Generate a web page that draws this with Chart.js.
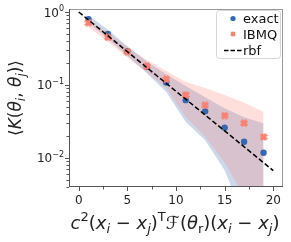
<!DOCTYPE html>
<html>
<head>
<meta charset="utf-8">
<script src="https://cdn.jsdelivr.net/npm/chart.js@4"></script>
<style>
  html, body { margin: 0; padding: 0; background: #fff; }
  canvas { display: block; }
</style>
</head>
<body>
<canvas id="kernelChart" width="291" height="242"></canvas>
<script>
// data
const xVals = [1, 3, 5, 7, 9, 11, 13, 15, 17, 19];
const exactMean = [0.80, 0.50, 0.29, 0.178, 0.108, 0.062, 0.0435, 0.026, 0.0167, 0.0118];
const exactUpper = [0.90, 0.57, 0.34, 0.21, 0.14, 0.097, 0.068, 0.048, 0.036, 0.030];
const exactLower = [0.70, 0.43, 0.25, 0.145, 0.08, 0.031, 0.0175, 0.0068, 0.0015, 0.0005];
const ibmqMean = [0.71, 0.45, 0.286, 0.18, 0.12, 0.073, 0.0527, 0.038, 0.030, 0.0194];
const ibmqUpper = [0.80, 0.52, 0.33, 0.22, 0.155, 0.11, 0.091, 0.073, 0.057, 0.043];
const ibmqLower = [0.62, 0.39, 0.24, 0.15, 0.09, 0.036, 0.0195, 0.0086, 0.003, 0.0004];
const rbfX = [0, 4, 8, 12, 16, 20];
const rbfY = [1.0, 0.368, 0.135, 0.0498, 0.0183, 0.0067];
const xTicks = [0, 5, 10, 15, 20];
const yTicks = [1, 0.1, 0.01];
const yTickExp = ['0', '\u22121', '\u22122'];

const BLUE = '#3568b0';
const SALMON = '#fa8072';
const FONT = '"DejaVu Sans", sans-serif';

const pts = (xs, ys) => xs.map((x, i) => ({ x: x, y: ys[i] }));

// filled "X" marker like matplotlib's
const makeX = (size, color) => {
    const c = document.createElement('canvas');
    c.width = size; c.height = size;
    const g = c.getContext('2d');
    g.strokeStyle = color;
    g.lineWidth = size * 0.42;
    g.beginPath();
    g.moveTo(1.2, 1.2); g.lineTo(size - 1.2, size - 1.2);
    g.moveTo(size - 1.2, 1.2); g.lineTo(1.2, size - 1.2);
    g.stroke();
    return c;
};
const xMarker = makeX(8, SALMON);
const xMarkerSmall = makeX(6, SALMON);

// draw text made of upright / italic / sub / sup pieces
const drawRich = (ctx, segs, x, y, S, align) => {
    const fontOf = s => `${s.it ? 'italic ' : ''}${(s.sub || s.sup) ? Math.round(S * 0.7) : S}px ${FONT}`;
    let total = 0;
    segs.forEach(s => { ctx.font = fontOf(s); total += ctx.measureText(s.t).width; });
    let cx = align === 'center' ? x - total / 2 : align === 'right' ? x - total : x;
    ctx.textAlign = 'left';
    ctx.textBaseline = 'alphabetic';
    segs.forEach(s => {
        ctx.font = fontOf(s);
        const dy = s.sub ? S * 0.22 : s.sup ? -S * 0.42 : 0;
        ctx.fillText(s.t, cx, y + dy);
        cx += ctx.measureText(s.t).width;
    });
};

const xTitle = [
    { t: 'c', it: true }, { t: '2', sup: true }, { t: '(' }, { t: 'x', it: true }, { t: 'i', it: true, sub: true },
    { t: ' \u2212 ' }, { t: 'x', it: true }, { t: 'j', it: true, sub: true }, { t: ')' }, { t: 'T', sup: true },
    { t: '\u2131' }, { t: '(' }, { t: '\u03b8', it: true }, { t: 'r', sub: true }, { t: ')' },
    { t: '(' }, { t: 'x', it: true }, { t: 'i', it: true, sub: true }, { t: ' \u2212 ' }, { t: 'x', it: true },
    { t: 'j', it: true, sub: true }, { t: ')' }
];
const yTitle = [
    { t: '\u27e8' }, { t: 'K', it: true }, { t: '(' }, { t: '\u03b8', it: true }, { t: 'i', it: true, sub: true },
    { t: ', ' }, { t: '\u03b8', it: true }, { t: 'j', it: true, sub: true }, { t: ')' }, { t: '\u27e9' }
];

const axesPlugin = {
    id: 'mplAxes',
    afterDraw(chart) {
        const ctx = chart.ctx;
        const a = chart.chartArea;
        const xs = chart.scales.x, ys = chart.scales.y;
        ctx.save();

        // spines
        ctx.lineWidth = 1;
        ctx.strokeStyle = '#9a9a9a';
        ctx.beginPath();
        ctx.moveTo(a.left, a.top + 0.5); ctx.lineTo(a.right, a.top + 0.5);
        ctx.moveTo(a.right - 0.5, a.top); ctx.lineTo(a.right - 0.5, a.bottom);
        ctx.stroke();
        ctx.strokeStyle = '#555';
        ctx.beginPath();
        ctx.moveTo(a.left + 0.5, a.top); ctx.lineTo(a.left + 0.5, a.bottom);
        ctx.moveTo(a.left, a.bottom - 0.5); ctx.lineTo(a.right, a.bottom - 0.5);
        ctx.stroke();

        // x ticks
        ctx.fillStyle = '#222';
        for (let v = 0; v <= 20; v += 2.5) {
            const px = Math.round(xs.getPixelForValue(v)) + 0.5;
            const major = v % 5 === 0;
            ctx.beginPath();
            ctx.moveTo(px, a.bottom); ctx.lineTo(px, a.bottom + (major ? 4 : 2.5));
            ctx.stroke();
        }
        ctx.font = `12px ${FONT}`;
        ctx.textAlign = 'center';
        ctx.textBaseline = 'alphabetic';
        xTicks.forEach(v => ctx.fillText(String(v), xs.getPixelForValue(v), a.bottom + 17));

        // y ticks (log, with minors)
        for (let e = -3; e <= 0; e++) {
            for (let m = 1; m <= 9; m++) {
                const v = m * Math.pow(10, e);
                if (v < ys.min || v > ys.max) continue;
                const py = Math.round(ys.getPixelForValue(v)) + 0.5;
                ctx.beginPath();
                ctx.moveTo(a.left, py); ctx.lineTo(a.left - (m === 1 ? 4 : 2.5), py);
                ctx.stroke();
            }
        }
        yTicks.forEach((v, i) => {
            const py = ys.getPixelForValue(v);
            drawRich(ctx, [{ t: '10' }, { t: yTickExp[i], sup: true }], a.left - 5, py + 4.5, 12, 'right');
        });

        // axis titles
        drawRich(ctx, xTitle, 175, 229, 18, 'center');
        ctx.save();
        ctx.translate(21, (a.top + a.bottom) / 2);
        ctx.rotate(-Math.PI / 2);
        drawRich(ctx, yTitle, 0, 0, 17, 'center');
        ctx.restore();

        // legend
        const lx = 216.5, ly = 10.5, lw = 64, lh = 48;
        ctx.beginPath();
        ctx.roundRect(lx, ly, lw, lh, 3);
        ctx.fillStyle = 'rgba(255,255,255,0.8)';
        ctx.fill();
        ctx.strokeStyle = '#d6d6d6';
        ctx.stroke();

        ctx.fillStyle = BLUE;
        ctx.beginPath();
        ctx.arc(233, 18.5, 2.6, 0, Math.PI * 2);
        ctx.fill();
        ctx.drawImage(xMarkerSmall, 230, 31);
        ctx.strokeStyle = '#000';
        ctx.lineWidth = 1.5;
        ctx.setLineDash([4.5, 2]);
        ctx.beginPath();
        ctx.moveTo(224, 50.5); ctx.lineTo(242, 50.5);
        ctx.stroke();
        ctx.setLineDash([]);

        ctx.fillStyle = '#111';
        ctx.font = `13px ${FONT}`;
        ctx.textAlign = 'left';
        ctx.fillText('exact', 243, 22.5);
        ctx.fillText('IBMQ', 243, 38.5);
        ctx.fillText('rbf', 243, 55);
        ctx.restore();
    }
};

new Chart(document.getElementById('kernelChart'), {
    type: 'line',
    data: {
        datasets: [
            {
                label: 'rbf', data: pts(rbfX, rbfY), borderColor: '#000', borderWidth: 1.5,
                borderDash: [5, 2.5], pointRadius: 0, fill: false
            },
            {
                label: 'IBMQ', data: pts(xVals, ibmqMean), showLine: false,
                pointStyle: xMarker, pointRadius: 4, fill: false
            },
            {
                label: 'exact', data: pts(xVals, exactMean), showLine: false,
                pointStyle: 'circle', pointRadius: 3.2, pointBackgroundColor: BLUE,
                pointBorderWidth: 0, fill: false
            },
            {
                label: 'IBMQ upper', data: pts(xVals, ibmqUpper), borderWidth: 0, pointRadius: 0,
                fill: '+1', backgroundColor: 'rgba(250,128,114,0.25)'
            },
            { label: 'IBMQ lower', data: pts(xVals, ibmqLower), borderWidth: 0, pointRadius: 0, fill: false },
            {
                label: 'exact upper', data: pts(xVals, exactUpper), borderWidth: 0, pointRadius: 0,
                fill: '+1', backgroundColor: 'rgba(53,104,176,0.25)'
            },
            { label: 'exact lower', data: pts(xVals, exactLower), borderWidth: 0, pointRadius: 0, fill: false }
        ]
    },
    options: {
        responsive: false,
        animation: false,
        layout: { padding: { left: 69, right: 8, top: 9, bottom: 55 } },
        plugins: { legend: { display: false }, tooltip: { enabled: false } },
        scales: {
            x: { type: 'linear', min: -1, max: 21, display: false },
            y: { type: 'logarithmic', min: 0.004, max: 1.1, display: false }
        }
    },
    plugins: [axesPlugin]
});
</script>
</body>
</html>
